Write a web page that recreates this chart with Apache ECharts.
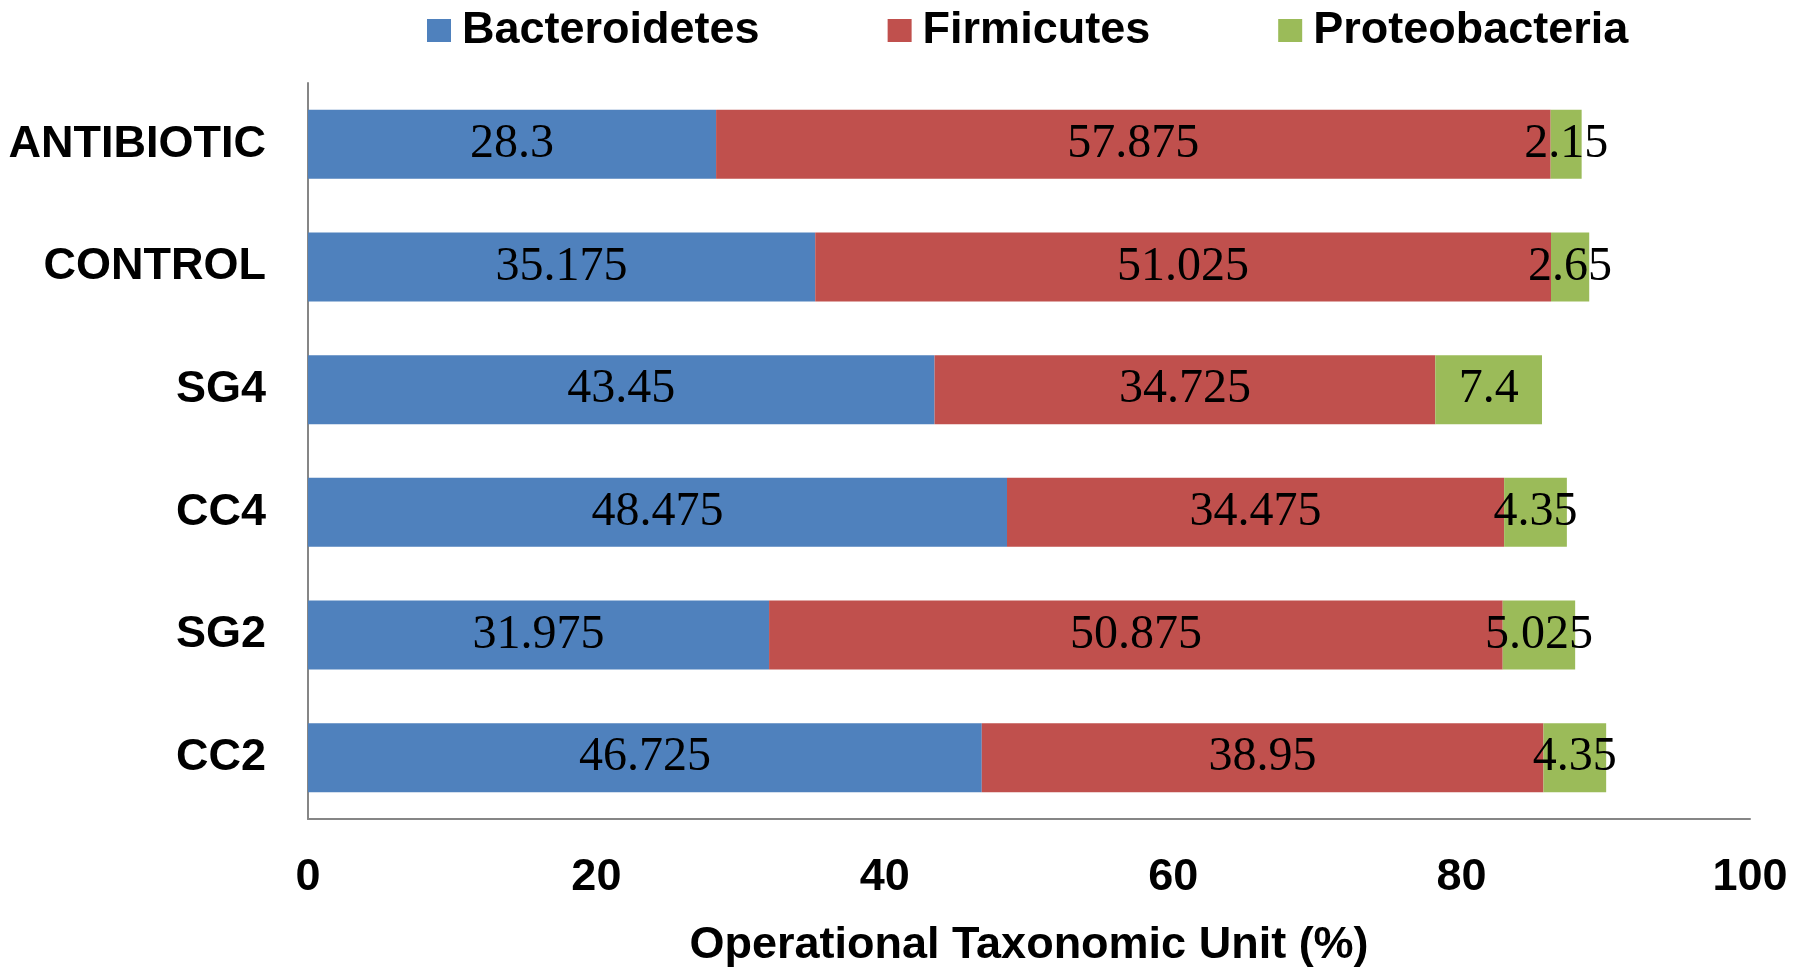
<!DOCTYPE html>
<html>
<head>
<meta charset="utf-8">
<script src="https://cdn.jsdelivr.net/npm/echarts@6/dist/echarts.min.js"></script>
<style>
  html, body { margin: 0; padding: 0; background: #fff; }
  #chart { width: 1800px; height: 973px; }
</style>
</head>
<body>
<div id="chart"></div>
<script>
// groups, top to bottom
var groups = ['ANTIBIOTIC', 'CONTROL', 'SG4', 'CC4', 'SG2', 'CC2'];
var bacteroidetes = [28.3, 35.175, 43.45, 48.475, 31.975, 46.725];
var firmicutes = [57.875, 51.025, 34.725, 34.475, 50.875, 38.95];
var proteobacteria = [2.15, 2.65, 7.4, 4.35, 5.025, 4.35];
var xTicks = [0, 20, 40, 60, 80, 100];

var sansBold = { fontFamily: 'Arial, "Liberation Sans", sans-serif', fontWeight: 'bold', color: '#000' };

function seg(name, data, color) {
  return {
    name: name,
    type: 'bar',
    stack: 'otu',
    data: data,
    barWidth: 69,
    itemStyle: { color: color },
    label: {
      show: true,
      position: 'inside',
      color: '#000',
      fontFamily: '"Liberation Serif", "Times New Roman", serif',
      fontSize: 48
    }
  };
}

var chart = echarts.init(document.getElementById('chart'));
chart.setOption({
  animation: false,
  backgroundColor: '#fff',
  legend: {
    top: 3,
    left: 422,
    itemWidth: 24,
    itemHeight: 23,
    itemGap: 128,
    icon: 'rect',
    textStyle: Object.assign({ fontSize: 45, padding: [0, 0, 0, 6] }, sansBold)
  },
  grid: { left: 308, right: 50, top: 83, bottom: 154 },
  xAxis: {
    type: 'value',
    min: xTicks[0],
    max: xTicks[xTicks.length - 1],
    interval: 20,
    name: 'Operational Taxonomic Unit (%)',
    nameLocation: 'middle',
    nameGap: 104,
    nameTextStyle: Object.assign({ fontSize: 45 }, sansBold),
    axisLine: { show: true, lineStyle: { color: '#868686', width: 2 } },
    axisTick: { show: false },
    splitLine: { show: false },
    axisLabel: Object.assign({ fontSize: 45, margin: 36 }, sansBold)
  },
  yAxis: {
    type: 'category',
    data: groups,
    inverse: true,
    axisLine: { show: true, lineStyle: { color: '#868686', width: 2 } },
    axisTick: { show: false },
    axisLabel: Object.assign({ fontSize: 45, margin: 42 }, sansBold)
  },
  series: [
    seg('Bacteroidetes', bacteroidetes, '#4F81BD'),
    seg('Firmicutes', firmicutes, '#C0504D'),
    seg('Proteobacteria', proteobacteria, '#9BBB59')
  ]
});
</script>
</body>
</html>
